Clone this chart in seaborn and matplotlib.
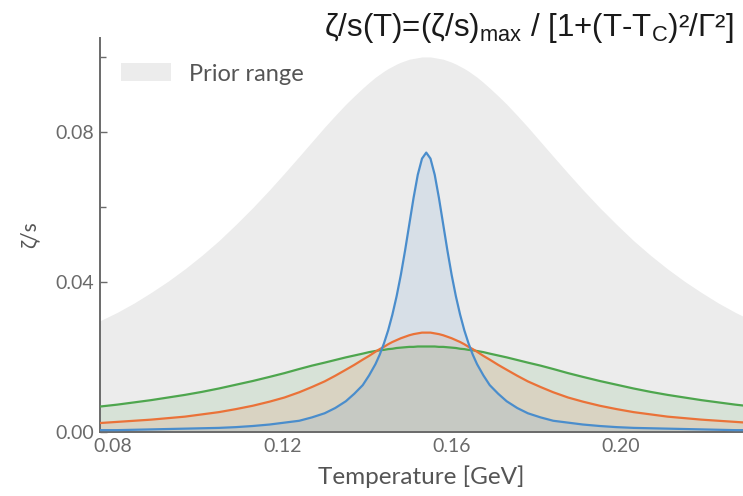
import numpy as np
import pandas as pd
import matplotlib
matplotlib.use("Agg")
import matplotlib.pyplot as plt
from matplotlib.patches import Patch
from matplotlib.ticker import MultipleLocator
import seaborn as sns

# temperature grid [GeV], denser around the peak
temperature = [0.077, 0.081, 0.085, 0.089, 0.093, 0.097, 0.101, 0.105, 0.109, 0.113,
               0.117, 0.1205, 0.124, 0.127, 0.130, 0.1325, 0.135, 0.137, 0.139, 0.1405,
               0.142, 0.143, 0.144, 0.145, 0.146, 0.147, 0.148, 0.149, 0.150, 0.151,
               0.152, 0.153, 0.154,
               0.155, 0.156, 0.157, 0.158, 0.159, 0.160, 0.161, 0.162, 0.163, 0.164,
               0.165, 0.166, 0.1675, 0.169, 0.171, 0.173, 0.1755, 0.178, 0.181, 0.184,
               0.1875, 0.191, 0.195, 0.199, 0.203, 0.207, 0.211, 0.215, 0.219, 0.223,
               0.227, 0.231]

# upper edge of the prior range
prior_max = [0.0297, 0.0319, 0.0344, 0.0372, 0.0402, 0.0435, 0.0471, 0.0510, 0.0553, 0.0598,
             0.0646, 0.0690, 0.0735, 0.0774, 0.0813, 0.0844, 0.0874, 0.0896, 0.0917, 0.0932,
             0.0946, 0.0954, 0.0962, 0.0969, 0.0975, 0.0981, 0.0986, 0.0990, 0.0994, 0.0996,
             0.0998, 0.1000, 0.1000,
             0.1000, 0.0998, 0.0996, 0.0994, 0.0990, 0.0986, 0.0981, 0.0975, 0.0969, 0.0962,
             0.0954, 0.0946, 0.0932, 0.0917, 0.0896, 0.0874, 0.0844, 0.0813, 0.0774, 0.0735,
             0.0690, 0.0646, 0.0598, 0.0553, 0.0510, 0.0471, 0.0435, 0.0402, 0.0372, 0.0344,
             0.0319, 0.0297]

# three example curves
zeta_blue = [0.0005, 0.0005, 0.0006, 0.0007, 0.0008, 0.0009, 0.0010, 0.0011, 0.0013, 0.0016,
             0.0020, 0.0025, 0.0030, 0.0039, 0.0050, 0.0064, 0.0082, 0.0102, 0.0125, 0.0151,
             0.0181, 0.0206, 0.0236, 0.0271, 0.0313, 0.0362, 0.0419, 0.0484, 0.0554, 0.0624,
             0.0686, 0.0729, 0.0745,
             0.0729, 0.0686, 0.0624, 0.0554, 0.0484, 0.0419, 0.0362, 0.0313, 0.0271, 0.0236,
             0.0206, 0.0181, 0.0151, 0.0125, 0.0102, 0.0082, 0.0064, 0.0050, 0.0039, 0.0030,
             0.0025, 0.0020, 0.0016, 0.0013, 0.0011, 0.0010, 0.0009, 0.0008, 0.0007, 0.0006,
             0.0005, 0.0005]

zeta_orange = [0.0024, 0.0027, 0.0030, 0.0033, 0.0037, 0.0041, 0.0047, 0.0053, 0.0061, 0.0070,
               0.0081, 0.0092, 0.0106, 0.0120, 0.0135, 0.0150, 0.0166, 0.0179, 0.0193, 0.0203,
               0.0214, 0.0221, 0.0227, 0.0234, 0.0240, 0.0245, 0.0250, 0.0254, 0.0258, 0.0261,
               0.0263, 0.0265, 0.0265,
               0.0265, 0.0263, 0.0261, 0.0258, 0.0254, 0.0250, 0.0245, 0.0240, 0.0234, 0.0227,
               0.0221, 0.0214, 0.0203, 0.0193, 0.0179, 0.0166, 0.0150, 0.0135, 0.0120, 0.0106,
               0.0092, 0.0081, 0.0070, 0.0061, 0.0053, 0.0047, 0.0041, 0.0037, 0.0033, 0.0030,
               0.0027, 0.0024]

zeta_green = [0.0068, 0.0073, 0.0079, 0.0085, 0.0092, 0.0099, 0.0107, 0.0116, 0.0126, 0.0136,
              0.0147, 0.0157, 0.0168, 0.0177, 0.0185, 0.0192, 0.0199, 0.0204, 0.0209, 0.0213,
              0.0216, 0.0218, 0.0219, 0.0221, 0.0222, 0.0224, 0.0225, 0.0226, 0.0227, 0.0227,
              0.0228, 0.0228, 0.0228,
              0.0228, 0.0228, 0.0227, 0.0227, 0.0226, 0.0225, 0.0224, 0.0222, 0.0221, 0.0219,
              0.0218, 0.0216, 0.0213, 0.0209, 0.0204, 0.0199, 0.0192, 0.0185, 0.0177, 0.0168,
              0.0157, 0.0147, 0.0136, 0.0126, 0.0116, 0.0107, 0.0099, 0.0092, 0.0085, 0.0079,
              0.0073, 0.0068]

curve_names = ["green", "orange", "blue"]
curve_colors = {"green": "#4ea64e", "orange": "#ea7238", "blue": "#4a8dcc"}

n = len(temperature)
df = pd.DataFrame({"T": temperature * 3,
                   "zeta": zeta_green + zeta_orange + zeta_blue,
                   "curve": ["green"] * n + ["orange"] * n + ["blue"] * n})

sns.set_theme(style="ticks")
plt.rcParams["font.family"] = ["Lato", "DejaVu Sans"]
plt.rcParams["mathtext.fontset"] = "custom"
plt.rcParams["mathtext.rm"] = "Liberation Sans"

grey = "#6a6a6a"
fig = plt.figure(figsize=(7.43, 4.96), dpi=100)
ax = fig.add_axes([0.1346, 0.129, 0.8654, 0.794])

ax.fill_between(temperature, 0, prior_max, color="#ececec", lw=0, zorder=1)
for name, vals in zip(curve_names, [zeta_green, zeta_orange, zeta_blue]):
    ax.fill_between(temperature, 0, vals, color=curve_colors[name], alpha=0.13, lw=0, zorder=2)

sns.lineplot(data=df, x="T", y="zeta", hue="curve", hue_order=curve_names,
             palette=curve_colors, linewidth=1.6, legend=False, ax=ax, zorder=3)

ax.set_xlim(0.07693, 0.22883)
ax.set_ylim(0, 0.105)
ax.xaxis.set_major_locator(MultipleLocator(0.04))
ax.xaxis.set_minor_locator(MultipleLocator(0.02))
ax.yaxis.set_major_locator(MultipleLocator(0.04))
ax.yaxis.set_minor_locator(MultipleLocator(0.02))
ax.xaxis.set_major_formatter(lambda v, p: f"{v:.2f}")
ax.yaxis.set_major_formatter(lambda v, p: f"{v:.2f}")
ax.tick_params(which="both", direction="in", color=grey, width=1.0, labelcolor=grey,
               labelsize=14)
ax.tick_params(which="major", length=5, pad=4)
ax.tick_params(which="minor", length=4)

sns.despine(ax=ax)
for side in ["left", "bottom"]:
    ax.spines[side].set_color(grey)
    ax.spines[side].set_linewidth(1.4)

ax.set_xlabel("Temperature [GeV]", fontsize=17.5, color="#555555", labelpad=8)
ax.set_ylabel("ζ/s", fontsize=15, color="#555555", labelpad=12)

ax.legend(handles=[Patch(facecolor="#ececec", edgecolor="none", label="Prior range")],
          loc="upper left", bbox_to_anchor=(0.0, 0.99), frameon=False, fontsize=17,
          handlelength=2.1, handleheight=0.8, handletextpad=0.75, labelcolor="#555555")

fig.text(0.987, 0.927, r"ζ/s(T)=(ζ/s)$_{\mathrm{max}}$ / [1+(T-T$_{\mathrm{C}}$)²/Γ²]",
         ha="right", va="baseline", fontsize=22.5, color="#1a1a1a",
         family=["Liberation Sans", "DejaVu Sans"])

fig.savefig("out.png", dpi=100)
